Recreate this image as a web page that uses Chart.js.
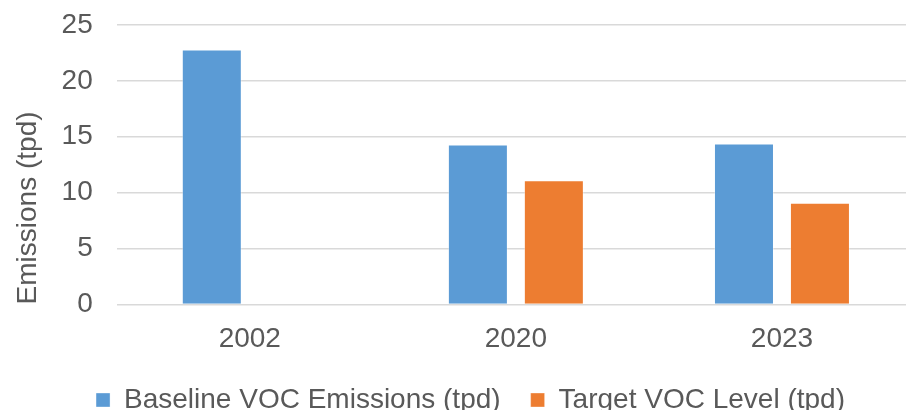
<!DOCTYPE html>
<html>
<head>
<meta charset="utf-8">
<script src="https://cdn.jsdelivr.net/npm/chart.js@4.4.1/dist/chart.umd.min.js"></script>
<style>
    html, body { margin: 0; padding: 0; background: #fff; overflow: hidden; }
    #wrap { width: 916px; height: 410px; position: relative; }
</style>
</head>
<body>
<div id="wrap"><canvas id="vocChart"></canvas></div>
<script>
// VOC emissions chart data
const years = ['2002', '2020', '2023'];
const baselineEmissions = [22.8, 14.3, 14.4];
const targetLevel = [null, 11.1, 9.1];
const yTicks = [0, 5, 10, 15, 20, 25];

const TEXT_COLOR = '#595959';
const FONT = '"Liberation Sans", Arial, sans-serif';

Chart.defaults.font.family = FONT;
Chart.defaults.color = TEXT_COLOR;

const ctx = document.getElementById('vocChart').getContext('2d');

new Chart(ctx, {
    type: 'bar',
    data: {
        labels: years,
        datasets: [
            {
                label: 'Baseline VOC Emissions (tpd)',
                data: baselineEmissions,
                backgroundColor: '#5B9BD5',
                borderColor: 'rgba(255,255,255,0.35)',
                borderWidth: 1,
                categoryPercentage: 0.571,
                barPercentage: 0.79
            },
            {
                label: 'Target VOC Level (tpd)',
                data: targetLevel,
                backgroundColor: '#ED7D31',
                borderColor: 'rgba(255,255,255,0.35)',
                borderWidth: 1,
                categoryPercentage: 0.571,
                barPercentage: 0.79
            }
        ]
    },
    options: {
        responsive: true,
        maintainAspectRatio: false,
        animation: false,
        layout: {
            padding: { top: 0, right: 1, left: 26, bottom: -14 }
        },
        plugins: {
            legend: {
                position: 'bottom',
                labels: {
                    boxWidth: 14,
                    boxHeight: 14,
                    padding: 30,
                    color: TEXT_COLOR,
                    font: { size: 28 }
                }
            },
            tooltip: { enabled: false }
        },
        scales: {
            x: {
                grid: { display: false },
                border: { display: false },
                ticks: {
                    color: TEXT_COLOR,
                    font: { size: 28 },
                    padding: 10
                },
                afterFit: axis => { axis.height -= 10; }
            },
            y: {
                min: 0,
                max: 25,
                afterBuildTicks: axis => {
                    axis.ticks = yTicks.map(v => ({ value: v }));
                },
                afterFit: axis => {
                    axis.width -= 9;
                    axis.paddingTop -= 13;
                },
                grid: {
                    color: '#d9d9d9',
                    lineWidth: 1.5,
                    drawTicks: false
                },
                border: { display: false },
                ticks: {
                    color: TEXT_COLOR,
                    font: { size: 28, lineHeight: 1.0 },
                    padding: 24
                },
                title: {
                    display: true,
                    text: 'Emissions (tpd)',
                    align: 'start',
                    color: TEXT_COLOR,
                    font: { size: 28 },
                    padding: { top: -15, bottom: 2 }
                }
            }
        }
    }
});
</script>
</body>
</html>
